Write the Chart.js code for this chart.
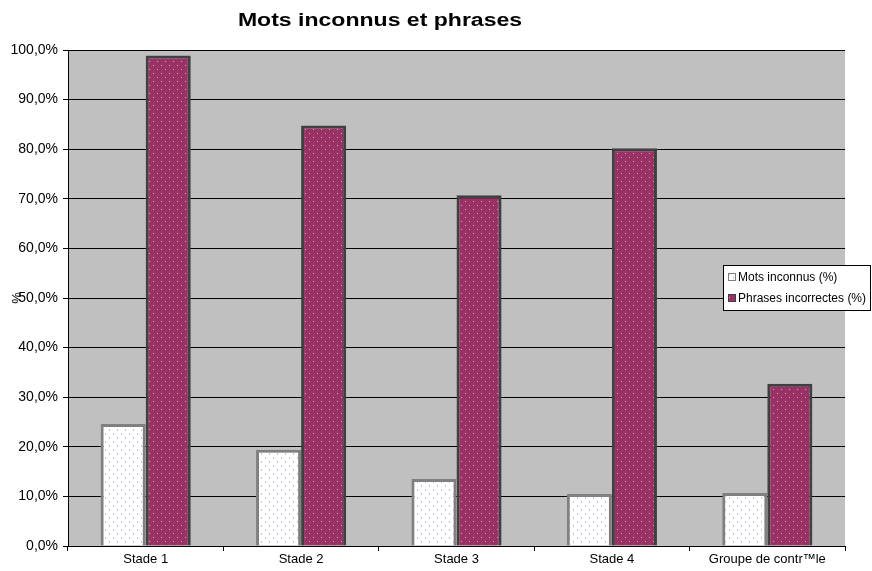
<!DOCTYPE html>
<html>
<head>
<meta charset="utf-8">
<script src="https://cdn.jsdelivr.net/npm/chart.js@4"></script>
<style>
  body { margin: 0; background: #fff; }
  #wrap { width: 872px; height: 571px; }
</style>
</head>
<body>
<div id="wrap"><canvas id="chart" width="872" height="571"></canvas></div>
<script>
const categories = ["Stade 1", "Stade 2", "Stade 3", "Stade 4", "Groupe de contr\u2122le"];
const motsInconnus = [24.6, 19.4, 13.5, 10.5, 10.7];
const phrasesIncorrectes = [98.9, 84.8, 70.7, 80.2, 32.7];
const yTicks = [0, 10, 20, 30, 40, 50, 60, 70, 80, 90, 100];

const FONT = "'Liberation Sans', Arial, sans-serif";

// small dotted fill like the original
function makePattern(bg, dot, dash) {
    const c = document.createElement("canvas");
    c.width = 8; c.height = 8;
    const g = c.getContext("2d");
    g.fillStyle = bg;
    g.fillRect(0, 0, 8, 8);
    g.fillStyle = dot;
    const h = dash ? 2 : 1;
    g.fillRect(1, 1, 1, h);
    g.fillRect(5, 5, 1, h);
    return g.createPattern(c, "repeat");
}

const ctx = document.getElementById("chart").getContext("2d");
const whiteFill = makePattern("#ffffff", "#c4c4e6", true);
const purpleFill = makePattern("#993366", "#e09ac0", false);

const plotBg = {
    id: "plotBg",
    beforeDraw(chart) {
        const a = chart.chartArea, c = chart.ctx;
        c.save();
        c.fillStyle = "#c0c0c0";
        c.fillRect(a.left, a.top, a.right - a.left, a.bottom - a.top);
        c.restore();
    },
    afterDraw(chart) {
        const c = chart.ctx;
        c.save();
        // title (stretched wide like the original)
        c.fillStyle = "#000";
        c.font = "bold 18px " + FONT;
        c.textAlign = "center";
        c.textBaseline = "middle";
        c.translate(380, 21);
        c.scale(1.28, 1);
        c.fillText("Mots inconnus et phrases", 0, 0);
        c.setTransform(1, 0, 0, 1, 0, 0);
        // legend box
        c.fillStyle = "#fff";
        c.fillRect(723, 265, 148, 45);
        c.strokeStyle = "#000";
        c.lineWidth = 1;
        c.strokeRect(723.5, 265.5, 147, 45);
        c.font = "12px " + FONT;
        c.textAlign = "left";
        chart.data.datasets.forEach((ds, i) => {
            const y = 277 + i * 21;
            c.fillStyle = ds.backgroundColor;
            c.fillRect(728, y - 4, 8, 8);
            c.strokeStyle = ds.borderColor;
            c.strokeRect(728.5, y - 3.5, 7, 7);
            c.fillStyle = "#000";
            c.fillText(ds.label, 738, y + 1);
        });
        c.restore();
    }
};

new Chart(ctx, {
    type: "bar",
    data: {
        labels: categories,
        datasets: [{
            label: "Mots inconnus (%)",
            data: motsInconnus,
            backgroundColor: whiteFill,
            borderColor: "#808080",
            borderWidth: 3,
            borderSkipped: "bottom"
        }, {
            label: "Phrases incorrectes (%)",
            data: phrasesIncorrectes,
            backgroundColor: purpleFill,
            borderColor: "#404040",
            borderWidth: 3,
            borderSkipped: "bottom"
        }]
    },
    options: {
        responsive: false,
        animation: false,
        categoryPercentage: 0.58,
        barPercentage: 1,
        layout: { padding: { top: 50, right: 27, left: 0, bottom: 0 } },
        plugins: {
            legend: { display: false },
            title: { display: false },
            tooltip: { enabled: false }
        },
        scales: {
            x: {
                grid: { drawOnChartArea: false, color: "#000", tickLength: 5, offset: true },
                border: { color: "#000" },
                ticks: {
                    color: "#000",
                    font: { family: FONT, size: 13 },
                    padding: 1,
                    maxRotation: 0
                },
                afterFit(s) { s.height = 25; }
            },
            y: {
                min: 0,
                max: 100,
                afterBuildTicks(s) { s.ticks = yTicks.map(v => ({ value: v })); },
                grid: { color: "#000", tickLength: 5 },
                border: { color: "#000" },
                ticks: {
                    color: "#000",
                    font: { family: FONT, size: 14 },
                    padding: 5,
                    callback: v => v.toFixed(1).replace(".", ",") + "%"
                },
                title: {
                    display: true,
                    text: "%",
                    color: "#000",
                    font: { family: FONT, size: 13 },
                    padding: { top: 10, bottom: 0 }
                },
                afterFit(s) { s.width = 68; }
            }
        }
    },
    plugins: [plotBg]
});
</script>
</body>
</html>
